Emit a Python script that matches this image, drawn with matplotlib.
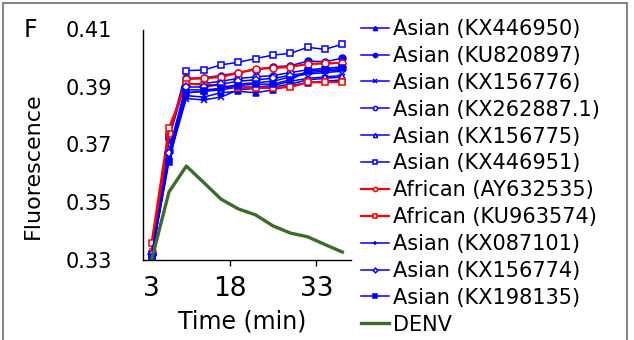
import matplotlib
matplotlib.use("Agg")
import matplotlib.pyplot as plt
from matplotlib.patches import Rectangle

plt.rcParams['font.family'] = ['DejaVu Sans']

# sampling times (min), one point every 3 min
times = [3, 6, 9, 12, 15, 18, 21, 24, 27, 30, 33, 36]
tick_labels = ["3", "18", "33"]

# fluorescence readings
kx446950 = [0.331, 0.366, 0.387, 0.3865, 0.388, 0.3885, 0.388, 0.389, 0.3905, 0.3915, 0.392, 0.3925]
ku820897 = [0.332, 0.372, 0.393, 0.3932, 0.394, 0.395, 0.396, 0.397, 0.3974, 0.399, 0.3988, 0.400]
kx156776 = [0.331, 0.365, 0.386, 0.3855, 0.3865, 0.389, 0.3895, 0.390, 0.391, 0.3925, 0.393, 0.3935]
kx262887 = [0.332, 0.368, 0.391, 0.3912, 0.392, 0.393, 0.3935, 0.394, 0.395, 0.396, 0.3965, 0.397]
kx156775 = [0.331, 0.366, 0.388, 0.3885, 0.389, 0.390, 0.390, 0.3905, 0.392, 0.393, 0.3935, 0.394]
kx446951 = [0.332, 0.373, 0.3957, 0.3959, 0.3977, 0.3986, 0.3999, 0.4011, 0.4017, 0.4038, 0.4031, 0.4049]
ay632535 = [0.333, 0.374, 0.3928, 0.393, 0.3935, 0.3949, 0.3963, 0.3966, 0.397, 0.398, 0.3982, 0.3984]
ku963574 = [0.3358, 0.3758, 0.3912, 0.3908, 0.3905, 0.3897, 0.3897, 0.3897, 0.390, 0.3916, 0.3917, 0.3917]
kx087101 = [0.331, 0.366, 0.389, 0.389, 0.3895, 0.391, 0.3915, 0.392, 0.3935, 0.3945, 0.395, 0.3955]
kx156774 = [0.332, 0.367, 0.390, 0.390, 0.391, 0.392, 0.3925, 0.393, 0.394, 0.395, 0.3955, 0.396]
kx198135 = [0.331, 0.364, 0.388, 0.3885, 0.3895, 0.3905, 0.391, 0.391, 0.3925, 0.3955, 0.396, 0.3965]
denv = [0.330, 0.3535, 0.3625, 0.3568, 0.351, 0.3476, 0.3455, 0.3417, 0.3392, 0.3379, 0.3352, 0.3326]

blue = '#0000ff'
red = '#ff0000'
green = '#3d6b2a'

# label, values, color, marker, filled
series = [
    ("Asian (KX446950)", kx446950, blue, '^', True),
    ("Asian (KU820897)", ku820897, blue, 'o', True),
    ("Asian (KX156776)", kx156776, blue, 'x', True),
    ("Asian (KX262887.1)", kx262887, blue, 'o', False),
    ("Asian (KX156775)", kx156775, blue, '^', False),
    ("Asian (KX446951)", kx446951, blue, 's', False),
    ("African (AY632535)", ay632535, red, 'o', False),
    ("African (KU963574)", ku963574, red, 's', False),
    ("Asian (KX087101)", kx087101, blue, '+', True),
    ("Asian (KX156774)", kx156774, blue, 'D', False),
    ("Asian (KX198135)", kx198135, blue, 's', True),
]

fig = plt.figure(figsize=(6.34, 3.4), dpi=100)
ax = fig.add_axes([143 / 634, 80.5 / 340, 208 / 634, 230 / 340])

# category axis like the original: points sit in the middle of each slot
xpos = [i + 0.5 for i in range(len(times))]

for label, vals, col, mk, filled in series:
    lw = 1.6 if col == red else 1.1
    ms = 4 if mk == 'D' else 5
    ax.plot(xpos, vals, color=col, lw=lw, marker=mk, ms=ms,
            mfc=col if filled else 'white', mec=col, mew=1.1, label=label)
ax.plot(xpos, denv, color=green, lw=2.4, label="DENV")

ax.set_xlim(0, len(times))
ax.set_ylim(0.33, 0.41)
ax.set_yticks([0.33, 0.35, 0.37, 0.39, 0.41])
ax.set_yticklabels(["0.33", "0.35", "0.37", "0.39", "0.41"])
ax.tick_params(axis='y', length=0, pad=22, labelsize=15)

# labels at 3, 18, 33; tick marks at slot borders (minor)
ax.xaxis.remove_overlapping_locs = False
ax.set_xticks([0.5, 5, 10])
ax.set_xticklabels(tick_labels)
ax.set_xticks([5, 10], minor=True)
ax.tick_params(axis='x', which='major', length=0, pad=12, labelsize=19)
ax.tick_params(axis='x', which='minor', length=4, width=1, direction='out')

for s in ['top', 'right']:
    ax.spines[s].set_visible(False)
for s in ['left', 'bottom']:
    ax.spines[s].set_linewidth(1.0)

fig.text(242 / 634, 1 - 321 / 340, "Time (min)", ha='center', va='center', fontsize=17)
fig.text(33 / 634, 1 - 166 / 340, "Fluorescence", ha='center', va='center',
         rotation=90, fontsize=16)
fig.text(24 / 634, 1 - 30 / 340, "F", ha='left', va='center', fontsize=17)

fig.legend(loc='upper left', bbox_to_anchor=(361 / 634, 1 - 19 / 340),
           frameon=False, fontsize=15, handlelength=1.35, handletextpad=0.2,
           labelspacing=0.33, markerscale=0.6, borderaxespad=0, borderpad=0)

fig.patches.append(Rectangle((3 / 634, -0.02), 624 / 634, 1.012, transform=fig.transFigure,
                             fill=False, edgecolor='#888888', lw=1.5))

fig.savefig("out.png", dpi=100)
